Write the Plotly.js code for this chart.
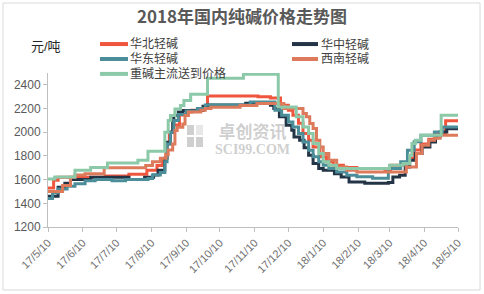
<!DOCTYPE html>
<html>
<head>
<meta charset="utf-8">
<script src="https://cdn.plot.ly/plotly-3.0.1.min.js"></script>
<style>
html,body{margin:0;padding:0;background:#ffffff;}
#chart{width:484px;height:294px;}
</style>
</head>
<body>
<div id="chart"></div>
<script>
// ---- data ----
const chartTitle = '2018年国内纯碱价格走势图';
const unitLabel = '元/吨';
const seriesNames = ['华北轻碱', '华中轻碱', '华东轻碱', '西南轻碱', '重碱主流送到价格'];
const seriesColors = ['#f0553e', '#243447', '#4b8d98', '#dc7a5b', '#8cc9a8'];

const tickDates = ['2017-05-10','2017-06-10','2017-07-10','2017-08-10','2017-09-10','2017-10-10','2017-11-10','2017-12-10','2018-01-10','2018-02-10','2018-03-10','2018-04-10','2018-05-10'];
const tickLabels = ['17/5/10','17/6/10','17/7/10','17/8/10','17/9/10','17/10/10','17/11/10','17/12/10','18/1/10','18/2/10','18/3/10','18/4/10','18/5/10'];
const yTicks = [1200, 1400, 1600, 1800, 2000, 2200, 2400];

const huabeiDates = ['2017-05-10','2017-05-15','2017-05-19','2017-06-30','2017-07-21','2017-08-06','2017-08-15','2017-08-20','2017-08-23','2017-08-26','2017-08-30','2017-09-04','2017-09-10','2017-09-15','2017-09-22','2017-09-29','2017-11-13','2017-11-24','2017-12-03','2017-12-10','2017-12-14','2017-12-19','2017-12-23','2017-12-28','2018-01-01','2018-01-07','2018-01-13','2018-01-19','2018-01-28','2018-02-09','2018-03-06','2018-03-11','2018-03-22','2018-03-27','2018-04-01','2018-04-07','2018-04-14','2018-04-19','2018-04-29','2018-05-10'];
const huabeiValues = [1530,1595,1620,1630,1645,1680,1720,1760,1900,2000,2060,2145,2170,2186,2200,2305,2300,2290,2228,2186,2144,2076,1990,1933,1876,1792,1750,1721,1702,1693,1685,1721,1740,1780,1850,1900,1940,1990,2096,2096];

const huazhongDates = ['2017-05-10','2017-05-19','2017-05-25','2017-05-30','2017-06-17','2017-07-21','2017-08-04','2017-08-12','2017-08-16','2017-08-22','2017-08-24','2017-08-27','2017-08-29','2017-08-30','2017-09-03','2017-09-07','2017-09-25','2017-09-29','2017-11-02','2017-11-24','2017-11-27','2017-12-02','2017-12-08','2017-12-13','2017-12-15','2017-12-20','2017-12-24','2017-12-28','2018-01-01','2018-01-06','2018-01-10','2018-01-20','2018-01-26','2018-02-02','2018-02-16','2018-03-09','2018-03-13','2018-03-19','2018-03-24','2018-03-28','2018-04-02','2018-04-08','2018-04-15','2018-04-20','2018-04-24','2018-04-30','2018-05-10'];
const huazhongValues = [1460,1535,1570,1600,1620,1600,1620,1640,1680,1780,1916,2000,2084,2141,2170,2183,2220,2230,2245,2228,2200,2130,2059,2017,1960,1933,1870,1806,1736,1693,1679,1650,1622,1580,1570,1575,1622,1637,1707,1764,1820,1876,1918,1960,2003,2030,2030];

const huadongDates = ['2017-05-10','2017-05-14','2017-05-19','2017-05-27','2017-06-03','2017-06-12','2017-06-21','2017-07-06','2017-07-18','2017-08-07','2017-08-11','2017-08-18','2017-08-22','2017-08-24','2017-08-27','2017-08-30','2017-09-03','2017-09-10','2017-09-20','2017-09-27','2017-11-06','2017-11-28','2017-12-04','2017-12-10','2017-12-14','2017-12-19','2017-12-23','2017-12-28','2018-01-01','2018-01-06','2018-01-10','2018-01-15','2018-01-22','2018-01-31','2018-02-09','2018-02-23','2018-03-09','2018-03-20','2018-03-26','2018-04-01','2018-04-07','2018-04-19','2018-04-26','2018-05-10'];
const huadongValues = [1440,1490,1520,1545,1565,1590,1600,1590,1600,1610,1640,1660,1750,1900,2000,2100,2150,2180,2200,2230,2256,2186,2144,2087,2045,1990,1918,1848,1792,1750,1721,1693,1665,1637,1625,1612,1693,1750,1848,1920,1975,2003,2045,2045];

const xinanDates = ['2017-05-10','2017-05-23','2017-05-30','2017-06-03','2017-06-12','2017-06-29','2017-08-05','2017-08-11','2017-08-18','2017-08-23','2017-08-25','2017-08-29','2017-08-31','2017-09-02','2017-09-07','2017-09-09','2017-09-12','2017-09-23','2017-09-27','2017-10-02','2017-10-28','2017-11-12','2017-12-06','2017-12-23','2017-12-26','2017-12-29','2018-01-01','2018-01-04','2018-01-07','2018-01-10','2018-01-15','2018-01-22','2018-01-31','2018-02-09','2018-03-25','2018-04-03','2018-04-08','2018-04-14','2018-04-19','2018-04-24','2018-05-10'];
const xinanValues = [1500,1550,1620,1640,1650,1700,1720,1750,1780,1810,1850,1900,2015,2042,2070,2141,2170,2186,2200,2210,2225,2243,2200,2158,2130,2074,2031,1933,1876,1820,1764,1707,1679,1665,1707,1820,1890,1933,1950,1975,1975];

const zhongjianDates = ['2017-05-10','2017-05-16','2017-06-03','2017-06-17','2017-07-02','2017-07-29','2017-08-07','2017-08-22','2017-08-25','2017-08-27','2017-08-31','2017-09-05','2017-09-08','2017-09-14','2017-09-29','2017-10-31','2017-12-01','2017-12-17','2017-12-23','2017-12-28','2018-01-01','2018-01-06','2018-01-10','2018-01-15','2018-01-22','2018-03-10','2018-03-22','2018-03-28','2018-03-30','2018-04-02','2018-04-07','2018-04-25','2018-05-10'];
const zhongjianValues = [1605,1622,1680,1702,1741,1764,1840,2000,2100,2141,2197,2226,2268,2320,2456,2490,2214,2130,2045,1990,1905,1820,1750,1721,1693,1721,1737,1806,1905,1933,1975,2144,2144];

const seriesDates = [huabeiDates, huazhongDates, huadongDates, xinanDates, zhongjianDates];
const seriesValues = [huabeiValues, huazhongValues, huadongValues, xinanValues, zhongjianValues];

// ---- traces ----
const traces = seriesNames.map((name, i) => ({
  type: 'scatter',
  mode: 'lines',
  name: name,
  x: seriesDates[i],
  y: seriesValues[i],
  line: {color: seriesColors[i], width: 3, shape: 'hv'},
  showlegend: false,
  hoverinfo: 'skip'
}));

// ---- manual legend (two columns, three rows) ----
const legendRowY = [1.188, 1.188, 1.091, 1.091, 0.994];
const legendLineX = [[0.1268, 0.1951], [0.5951, 0.6585], [0.1268, 0.1951], [0.5951, 0.6585], [0.1268, 0.1951]];
const legendTextX = [0.1976, 0.6634, 0.1976, 0.6634, 0.1976];
const legendFont = 'Liberation Sans, Noto Sans CJK SC, sans-serif';

const shapes = [];
const annotations = [];
seriesNames.forEach((name, i) => {
  shapes.push({type: 'line', xref: 'paper', yref: 'paper',
    x0: legendLineX[i][0], x1: legendLineX[i][1], y0: legendRowY[i], y1: legendRowY[i],
    line: {color: seriesColors[i], width: 4}});
  annotations.push({xref: 'paper', yref: 'paper', x: legendTextX[i], y: legendRowY[i],
    xanchor: 'left', yanchor: 'middle', showarrow: false, borderpad: 0, text: name,
    font: {family: legendFont, size: 12, color: '#404040'}});
});

// unit label
annotations.push({xref: 'paper', yref: 'paper', x: -0.005, y: 1.169, xanchor: 'center', yanchor: 'middle',
  showarrow: false, text: unitLabel, font: {family: legendFont, size: 13, color: '#262626'}});

// watermark
annotations.push({xref: 'paper', yref: 'paper', x: 0.4976, y: 0.568, xanchor: 'center', yanchor: 'middle', align: 'center',
  showarrow: false, borderpad: 0,
  text: '<span style="font-size:17px;font-weight:bold">卓创资讯</span><br><span style="font-family:Liberation Serif, serif;font-size:14px;font-weight:bold">SCI99.COM</span>',
  font: {family: legendFont, size: 12, color: 'rgba(175,175,175,0.6)'}});
const logoCells = [[0.3390, 0.3561, 0.5974, 0.6623, 0.6], [0.3610, 0.3780, 0.5974, 0.6623, 0.3], [0.3390, 0.3561, 0.5195, 0.5844, 0.6], [0.3610, 0.3780, 0.5195, 0.5844, 0.6]];
logoCells.forEach(c => shapes.push({type: 'rect', xref: 'paper', yref: 'paper', x0: c[0], x1: c[1], y0: c[2], y1: c[3],
  line: {width: 0}, fillcolor: 'rgba(175,175,175,' + c[4] + ')'}));

// outer border
shapes.push({type: 'rect', xref: 'paper', yref: 'paper', x0: -0.1098, x1: 1.0537, y0: -0.409, y1: 1.4545,
  line: {color: '#d9d9d9', width: 1}, fillcolor: 'rgba(0,0,0,0)', layer: 'below'});

const layout = {
  width: 484, height: 294,
  margin: {l: 48, r: 26, t: 73, b: 67, pad: 0},
  paper_bgcolor: '#ffffff', plot_bgcolor: '#ffffff',
  title: {text: '<b>' + chartTitle + '</b>', x: 0.5, xref: 'container', xanchor: 'center',
    y: 0.942, yref: 'container', yanchor: 'middle',
    font: {family: 'Noto Sans CJK SC, sans-serif', size: 17, color: '#595959'}},
  showlegend: false,
  xaxis: {type: 'date', range: ['2017-05-10', '2018-05-10'], tickmode: 'array', tickvals: tickDates, ticktext: tickLabels,
    tickangle: -45, ticks: 'outside', ticklen: 4, tickcolor: '#bfbfbf', showline: true, linecolor: '#bfbfbf', linewidth: 1,
    showgrid: false, zeroline: false, automargin: false,
    tickfont: {family: 'Liberation Sans, Arial, sans-serif', size: 11, color: '#6e6e6e'}},
  yaxis: {range: [1200, 2500], tickmode: 'array', tickvals: yTicks, ticks: 'outside', ticklen: 4, tickcolor: '#bfbfbf',
    showline: true, linecolor: '#bfbfbf', linewidth: 1, showgrid: false, zeroline: false, automargin: false,
    tickfont: {family: 'Liberation Sans, Arial, sans-serif', size: 12, color: '#595959'}},
  shapes: shapes,
  annotations: annotations
};

Plotly.newPlot('chart', traces, layout, {staticPlot: true, displayModeBar: false});
</script>
</body>
</html>
